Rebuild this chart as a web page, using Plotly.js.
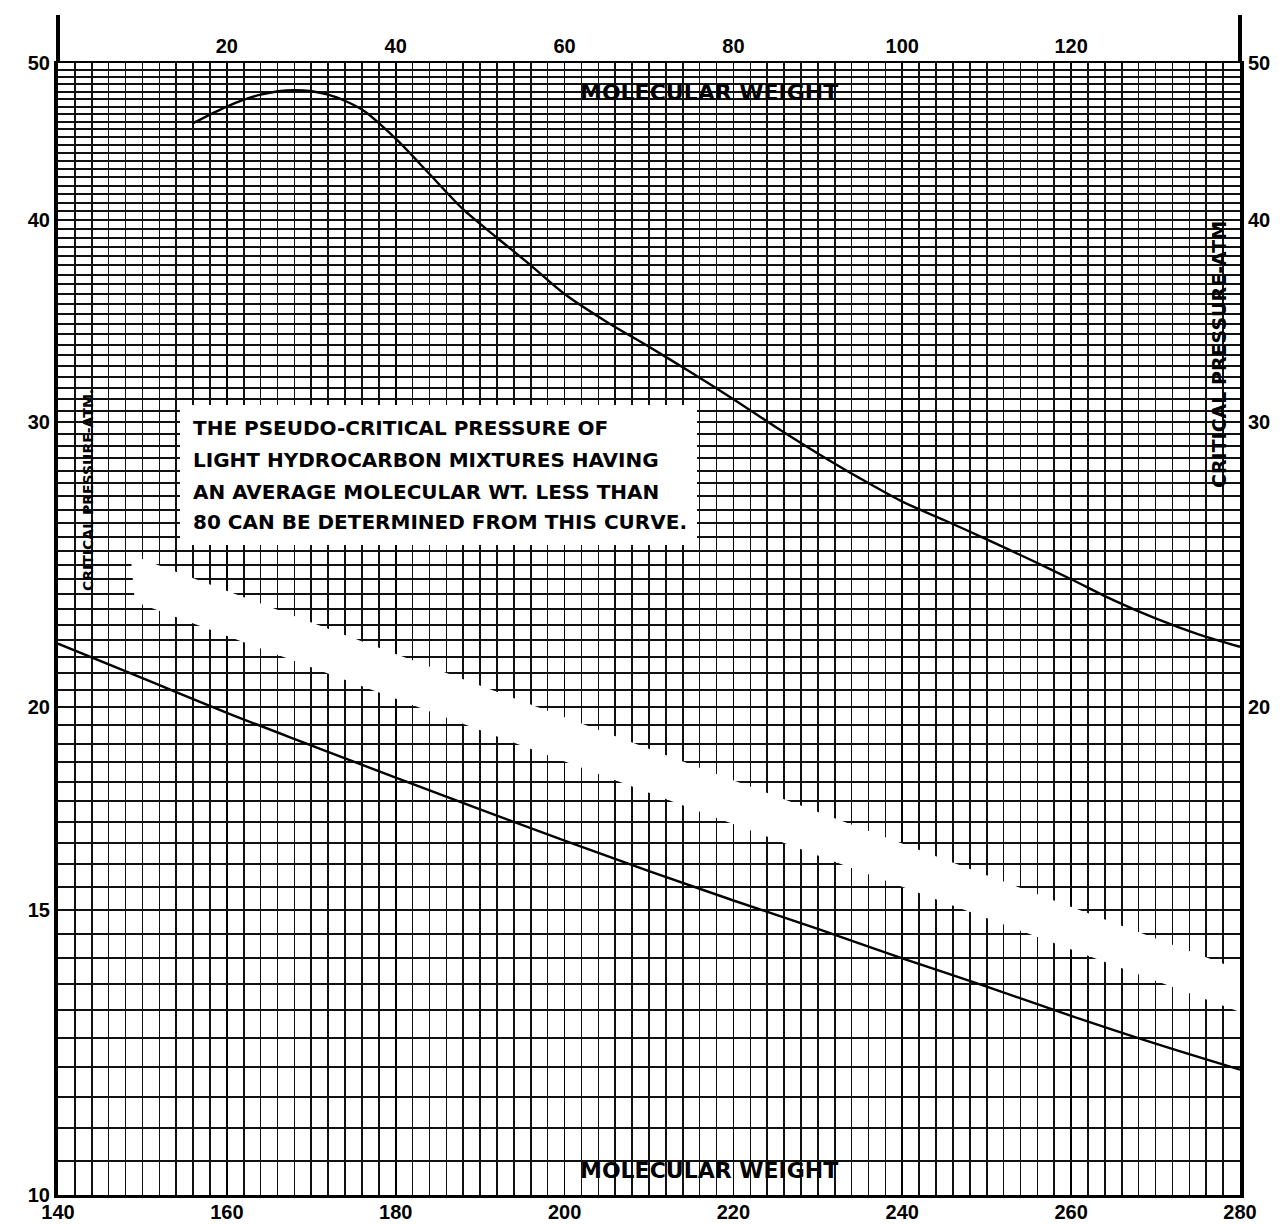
<!DOCTYPE html>
<html><head><meta charset="utf-8">
<script src="https://cdn.plot.ly/plotly-3.0.1.min.js"></script>
<style>html,body{margin:0;padding:0;background:#fff}</style>
</head><body>
<div id="chart" style="width:1286px;height:1224px"></div>
<script>
// ---- data ----
// upper curve: molecular weight (top scale 0-140) vs critical pressure (atm)
const upperMolWt    = [16, 20, 24, 28, 32, 36, 40, 44, 48, 52, 56, 60, 65, 70, 75, 80, 85, 90, 95, 100, 105, 110, 115, 120, 125, 130, 135, 140];
const upperPressure = [45.9, 47.0, 47.8, 48.1, 47.8, 46.8, 44.9, 42.7, 40.6, 39.0, 37.5, 36.0, 34.6, 33.4, 32.2, 31.0, 29.8, 28.7, 27.7, 26.8, 26.1, 25.4, 24.7, 24.0, 23.3, 22.7, 22.2, 21.8];
// lower curve: molecular weight (bottom scale 140-280) vs critical pressure (atm)
const lowerMolWt    = [140, 150, 160, 170, 180, 190, 200, 210, 220, 230, 240, 250, 260, 270, 280];
const lowerPressure = [21.9, 20.85, 19.85, 18.95, 18.1, 17.3, 16.55, 15.85, 15.2, 14.6, 14.0, 13.45, 12.9, 12.4, 11.95];
// blank (white) diagonal strip on the chart paper
const bandMolWt    = [148.6, 280, 280, 149.1];
const bandPressure = [24.85, 13.77, 12.97, 23.24];
// tick labels
const bottomTicks = [140, 160, 180, 200, 220, 240, 260, 280];
const topTicks    = [20, 40, 60, 80, 100, 120];
const leftTicks   = [10, 15, 20, 30, 40, 50];
const rightTicks  = [20, 30, 40, 50];
const noteLines = [
  "THE PSEUDO-CRITICAL PRESSURE OF",
  "LIGHT HYDROCARBON MIXTURES HAVING",
  "AN AVERAGE MOLECULAR WT. LESS THAN",
  "80 CAN BE DETERMINED FROM THIS CURVE."
];
const axisLabel = "MOLECULAR WEIGHT";
const pressureLabel = "CRITICAL PRESSURE-ATM.";
const pressureLabelRight = "CRITICAL PRESSURE-ATM";

// ---- horizontal rulings of the chart paper (every 0.5 atm) ----
const yGrid = [];
for (let v = 10; v <= 50; v += 0.5) yGrid.push(v);
const yGridText = yGrid.map(v => leftTicks.indexOf(v) >= 0 ? String(v) : "");

const FONT = "Liberation Sans, Arial, sans-serif";
const LFONT = "DejaVu Sans, Verdana, sans-serif";
const tickFont = {family: FONT, size: 20, color: "#000", weight: "bold"};
const yRange = [1, Math.log10(50)];

const traces = [
  {x: bandMolWt, y: bandPressure, xaxis: "x", yaxis: "y", mode: "lines", fill: "toself",
   fillcolor: "#ffffff", line: {width: 0, color: "#ffffff"}, hoverinfo: "skip", showlegend: false},
  {x: lowerMolWt, y: lowerPressure, xaxis: "x", yaxis: "y2", mode: "lines",
   line: {color: "#000", width: 2.4, shape: "spline", smoothing: 1}, showlegend: false},
  {x: upperMolWt, y: upperPressure, xaxis: "x2", yaxis: "y", mode: "lines",
   line: {color: "#000", width: 2.4, shape: "spline", smoothing: 0.8}, showlegend: false}
];

const W = 1182, H = 1132; // plot area size in px
const annotations = [];
const lineY = [428, 460, 492, 522];
noteLines.forEach((t, i) => annotations.push({
  text: t, xref: "paper", yref: "paper", x: (191 - 58) / W, y: (1195 - lineY[i]) / H,
  xanchor: "left", yanchor: "middle", showarrow: false,
  font: {family: LFONT, size: 20, color: "#000", weight: "bold"}
}));
annotations.push({text: axisLabel, xref: "paper", yref: "paper", x: (709 - 58) / W, y: (1195 - 93) / H,
  xanchor: "center", yanchor: "middle", showarrow: false,
  font: {family: LFONT, size: 22, color: "#000", weight: "bold"}});
annotations.push({text: axisLabel, xref: "paper", yref: "paper", x: (709 - 58) / W, y: (1195 - 1170) / H,
  xanchor: "center", yanchor: "middle", showarrow: false,
  font: {family: LFONT, size: 22, color: "#000", weight: "bold"}});
annotations.push({text: pressureLabel, xref: "paper", yref: "paper", x: (88 - 58) / W, y: (1195 - 490) / H,
  xanchor: "center", yanchor: "middle", showarrow: false, textangle: -90,
  font: {family: LFONT, size: 14, color: "#000", weight: "bold"}});
annotations.push({text: pressureLabelRight, xref: "paper", yref: "paper", x: (1219 - 58) / W, y: (1195 - 355) / H,
  xanchor: "center", yanchor: "middle", showarrow: false, textangle: -90,
  font: {family: LFONT, size: 19, color: "#000", weight: "bold"}});

const layout = {
  width: 1286, height: 1224,
  margin: {l: 58, r: 46, t: 63, b: 29, pad: 0},
  paper_bgcolor: "#fff", plot_bgcolor: "#fff",
  showlegend: false,
  xaxis: {
    range: [140, 280], tickmode: "array", tickvals: bottomTicks, ticks: "", ticklabelstandoff: -3,
    tickfont: tickFont, showgrid: true, gridcolor: "#000", gridwidth: 1.8,
    minor: {tickmode: "linear", tick0: 140, dtick: 2, showgrid: true, gridcolor: "#111", gridwidth: 1.6, ticks: ""},
    showline: true, linecolor: "#000", linewidth: 2.5, zeroline: false, fixedrange: true
  },
  xaxis2: {
    overlaying: "x", side: "top", anchor: "y", range: [0, 140], tickmode: "array", tickvals: topTicks,
    ticks: "", tickfont: tickFont, showgrid: false, showline: true, linecolor: "#000", linewidth: 2.5,
    zeroline: false, fixedrange: true
  },
  yaxis: {
    type: "log", range: yRange, tickmode: "array", tickvals: yGrid, ticktext: yGridText,
    ticks: "", tickfont: tickFont, showgrid: true, gridcolor: "#111", gridwidth: 2,
    showline: true, linecolor: "#000", linewidth: 4, zeroline: false, fixedrange: true
  },
  yaxis2: {
    overlaying: "y", side: "right", anchor: "x", type: "log", range: yRange, tickmode: "array",
    tickvals: rightTicks, ticktext: rightTicks.map(String), ticks: "", tickfont: tickFont,
    showgrid: false, showline: true, linecolor: "#000", linewidth: 4, zeroline: false, fixedrange: true
  },
  shapes: [
    {type: "rect", xref: "paper", yref: "paper", x0: (180 - 58) / W, x1: (697 - 58) / W,
     y0: (1195 - 545) / H, y1: (1195 - 405) / H, fillcolor: "#fff", line: {width: 0}, layer: "above"},
    {type: "line", xref: "paper", yref: "paper", x0: 0, x1: 0, y0: 1, y1: 1 + 48 / H,
     line: {color: "#000", width: 4}},
    {type: "line", xref: "paper", yref: "paper", x0: 1, x1: 1, y0: 1, y1: 1 + 48 / H,
     line: {color: "#000", width: 4}}
  ],
  annotations: annotations
};

Plotly.newPlot("chart", traces, layout, {displayModeBar: false, staticPlot: true});
</script>
</body></html>
